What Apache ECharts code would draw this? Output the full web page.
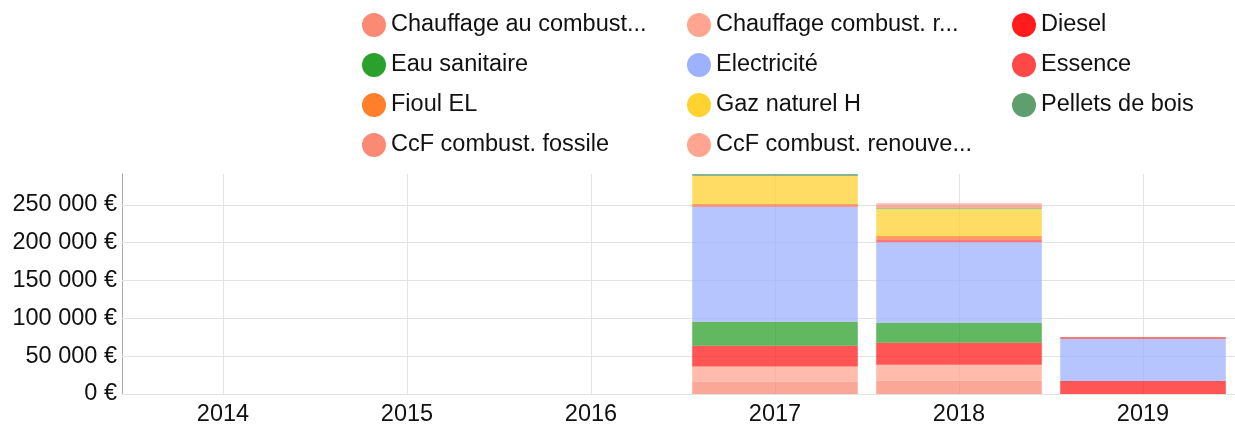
<!DOCTYPE html>
<html>
<head>
<meta charset="utf-8">
<script src="https://cdn.jsdelivr.net/npm/echarts@6/dist/echarts.min.js"></script>
<style>
    html, body { margin: 0; padding: 0; background: #fff; }
    #chart { width: 1235px; height: 427px; }
</style>
</head>
<body>
<div id="chart"></div>
<script>
const years = ['2014', '2015', '2016', '2017', '2018', '2019'];

const chauffageFossile = [0, 0, 0, 16300, 17600, 0];
const chauffageRenouv = [0, 0, 0, 20200, 21100, 0];
const diesel = [0, 0, 0, 27300, 29000, 17200];
const eauSanitaire = [0, 0, 0, 31700, 26400, 0];
const electricite = [0, 0, 0, 152000, 106600, 55500];
const essence = [0, 0, 0, 1700, 4000, 2600];
const fioul = [0, 0, 0, 2000, 4000, 0];
const gazNaturel = [0, 0, 0, 37000, 36100, 0];
const pellets = [0, 0, 0, 2600, 1300, 0];
const ccfFossile = [0, 0, 0, 0, 3500, 0];
const ccfRenouv = [0, 0, 0, 0, 2700, 0];

const seriesDefs = [
    ['Chauffage au combustible fossile', chauffageFossile, '#fa8a74'],
    ['Chauffage combust. renouvelable', chauffageRenouv, '#ffa590'],
    ['Diesel', diesel, '#ff1c1c'],
    ['Eau sanitaire', eauSanitaire, '#2ca02c'],
    ['Electricité', electricite, '#9db1fd'],
    ['Essence', essence, '#ff4848'],
    ['Fioul EL', fioul, '#ff7f2a'],
    ['Gaz naturel H', gazNaturel, '#ffd230'],
    ['Pellets de bois', pellets, '#5f9e6e'],
    ['CcF combust. fossile', ccfFossile, '#fa8a74'],
    ['CcF combust. renouvelable', ccfRenouv, '#ffa590']
];

const font = 'Liberation Sans, Arial, sans-serif';
const fontSize = 23.5;

// legend item, optionally cut to a width with "..."
function legendItem(i, cut) {
    let item = { name: seriesDefs[i][0] };
    if (cut) {
        item.textStyle = { width: cut, overflow: 'truncate', ellipsis: '...' };
    }
    return item;
}

function makeLegend(items, left) {
    return {
        orient: 'vertical',
        left: left,
        top: 13,
        padding: 0,
        icon: 'circle',
        itemWidth: 24,
        itemHeight: 24,
        itemGap: 16,
        itemStyle: { opacity: 1 },
        textStyle: {
            fontFamily: font,
            fontSize: fontSize,
            color: '#111',
            lineHeight: 24
        },
        data: items
    };
}

function euro(v) {
    return String(v).replace(/\B(?=(\d{3})+(?!\d))/g, ' ') + ' €';
}

let myChart = echarts.init(document.getElementById('chart'));

let option = {
    animation: false,
    legend: [
        makeLegend([legendItem(0, 258), legendItem(3), legendItem(6), legendItem(9)], 362),
        makeLegend([legendItem(1, 250), legendItem(4), legendItem(7), legendItem(10, 258)], 687),
        makeLegend([legendItem(2), legendItem(5), legendItem(8)], 1012)
    ],
    tooltip: { trigger: 'axis' },
    grid: {
        left: 131,
        right: 0,
        top: 174,
        bottom: 33
    },
    xAxis: {
        type: 'category',
        data: years,
        axisLine: { show: false },
        axisTick: { show: false },
        axisLabel: {
            fontFamily: font,
            fontSize: fontSize,
            color: '#111',
            margin: 9
        },
        splitLine: {
            show: true,
            alignWithLabel: true,
            lineStyle: { color: '#e3e3e3', width: 1 }
        }
    },
    yAxis: {
        type: 'value',
        min: 0,
        max: 'dataMax',
        interval: 50000,
        offset: 9,
        axisLine: { show: true, lineStyle: { color: '#aaa', width: 1 } },
        axisTick: { show: true, inside: true, length: 9, lineStyle: { color: '#e3e3e3' } },
        axisLabel: {
            fontFamily: font,
            fontSize: fontSize,
            color: '#111',
            margin: 5,
            showMaxLabel: false,
            formatter: euro
        },
        splitLine: {
            show: true,
            showMaxLine: false,
            lineStyle: { color: '#e3e3e3', width: 1 }
        }
    },
    series: seriesDefs.map(s => ({
        name: s[0],
        type: 'bar',
        stack: 'total',
        barCategoryGap: '10%',
        data: s[1],
        itemStyle: { color: s[2], opacity: 0.75 }
    }))
};

myChart.setOption(option);
</script>
</body>
</html>
